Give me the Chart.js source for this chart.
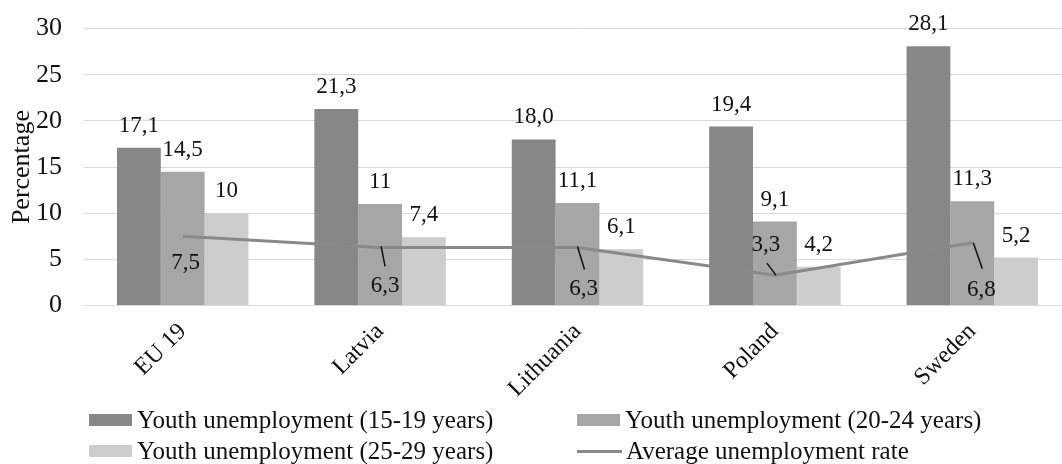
<!DOCTYPE html>
<html>
<head>
	<meta charset="utf-8" />
	<title>Youth unemployment by age group</title>
	<script src="https://cdn.jsdelivr.net/npm/chart.js@4.4.1/dist/chart.umd.min.js"></script>
	<style>
		html, body { margin: 0; padding: 0; background: #fff; overflow: hidden; }
		#wrap { position: relative; width: 1072px; height: 416px; margin-top: -9px; }
		#legend { position: absolute; left: 0; top: 404px; width: 1062px; height: 60px;
			font-family: "Liberation Serif", "Times New Roman", serif; font-size: 25px; color: #111; }
		.item { position: absolute; display: flex; align-items: center; height: 30px; white-space: nowrap; }
		.box { display: inline-block; width: 43px; height: 12px; margin-right: 5px; }
		.ln { display: inline-block; width: 45px; height: 3px; margin-right: 4px; }
	</style>
</head>
<body>

<div id="wrap"><canvas id="myChart" width="1072" height="416"></canvas></div>
<div id="legend"></div>

<script type="text/javascript">
// data
var countries = ['EU 19', 'Latvia', 'Lithuania', 'Poland', 'Sweden'];
var youth15 = [17.1, 21.3, 18.0, 19.4, 28.1];
var youth20 = [14.5, 11, 11.1, 9.1, 11.3];
var youth25 = [10, 7.4, 6.1, 4.2, 5.2];
var avgRate = [7.5, 6.3, 6.3, 3.3, 6.8];
// decimals shown in the value labels
var youth15Dec = [1, 1, 1, 1, 1];
var youth20Dec = [1, 0, 1, 1, 1];
var youth25Dec = [0, 1, 1, 1, 1];
var avgDec = [1, 1, 1, 1, 1];
var yTicks = [0, 5, 10, 15, 20, 25, 30];

var seriesNames = ['Youth unemployment (15-19 years)', 'Youth unemployment (20-24 years)',
	'Youth unemployment (25-29 years)', 'Average unemployment rate'];
var colors = ['#878787', '#a6a6a6', '#cdcdcd', '#898989'];

// placement of the line labels, relative to the point: [dx, dy, leader from dx,dy, leader to dx,dy]
var avgLabelPos = [
	[3, 27, null],
	[5, 39, [1, -1, 5, 19]],
	[6, 42, [0, -1, 7, 22]],
	[-9, -30, [-8, -12, 1, 0]],
	[9, 47, [1, 0, 10, 26]]
];

var FONT = '"Liberation Serif", "Times New Roman", serif';

function fmt(v, d) {
	return v.toFixed(d).replace('.', ',');
}

// draws the value labels like excel does
var valueLabels = {
	id: 'valueLabels',
	afterDatasetsDraw: function (chart) {
		var ctx = chart.ctx;
		var decs = [youth15Dec, youth20Dec, youth25Dec, avgDec];
		ctx.save();
		ctx.font = '23px ' + FONT;
		ctx.fillStyle = '#111';
		ctx.textAlign = 'center';
		ctx.textBaseline = 'middle';
		chart.data.datasets.forEach(function (ds, i) {
			var meta = chart.getDatasetMeta(i);
			meta.data.forEach(function (el, j) {
				var txt = fmt(ds.data[j], decs[i][j]);
				if (ds.type === 'line') {
					var p = avgLabelPos[j];
					if (p[2]) {
						ctx.strokeStyle = '#111';
						ctx.lineWidth = 1.5;
						ctx.beginPath();
						ctx.moveTo(el.x + p[2][0], el.y + p[2][1]);
						ctx.lineTo(el.x + p[2][2], el.y + p[2][3]);
						ctx.stroke();
					}
					ctx.fillText(txt, el.x + p[0], el.y + p[1]);
				} else {
					ctx.fillText(txt, el.x, el.y - 22);
				}
			});
		});
		ctx.restore();
	}
};

var ctx = document.getElementById('myChart').getContext('2d');
var chart = new Chart(ctx, {
	type: 'bar',
	data: {
		labels: countries,
		datasets: [
			{ label: seriesNames[0], data: youth15, backgroundColor: colors[0], order: 1 },
			{ label: seriesNames[1], data: youth20, backgroundColor: colors[1], order: 1 },
			{ label: seriesNames[2], data: youth25, backgroundColor: colors[2], order: 1 },
			{ label: seriesNames[3], data: avgRate, type: 'line', borderColor: colors[3], borderWidth: 3,
				pointRadius: 0, fill: false, tension: 0, order: 0 }
		]
	},
	options: {
		responsive: false,
		animation: false,
		events: [],
		layout: { padding: { top: 5, right: 1, left: 0, bottom: 0 } },
		datasets: { bar: { categoryPercentage: 0.666, barPercentage: 1 } },
		plugins: { legend: { display: false }, tooltip: { enabled: false } },
		scales: {
			x: {
				grid: { display: false },
				border: { display: false },
				ticks: { minRotation: 45, maxRotation: 45, color: '#111', font: { family: FONT, size: 24 }, padding: 4 }
			},
			y: {
				min: 0,
				max: 30,
				afterBuildTicks: function (s) { s.ticks = yTicks.map(function (v) { return { value: v }; }); },
				afterFit: function (s) { s.width = 84; },
				grid: { color: '#d9d9d9', lineWidth: 1, drawTicks: false },
				border: { display: false },
				ticks: { color: '#111', font: { family: FONT, size: 26 }, padding: 22 },
				title: { display: true, text: 'Percentage', color: '#111', font: { family: FONT, size: 26 }, padding: { top: 7, bottom: 0 } }
			}
		}
	},
	plugins: [valueLabels]
});

// legend, two columns like the original
var legendPos = [[89, 405], [577, 405], [89, 436], [577, 436]];
var lg = document.getElementById('legend');
seriesNames.forEach(function (name, i) {
	var d = document.createElement('div');
	d.className = 'item';
	d.style.left = legendPos[i][0] + 'px';
	d.style.top = (legendPos[i][1] - 404) + 'px';
	var mark = document.createElement('span');
	mark.className = i === 3 ? 'ln' : 'box';
	mark.style.background = colors[i];
	d.appendChild(mark);
	d.appendChild(document.createTextNode(name));
	lg.appendChild(d);
});
</script>
</body>
</html>
